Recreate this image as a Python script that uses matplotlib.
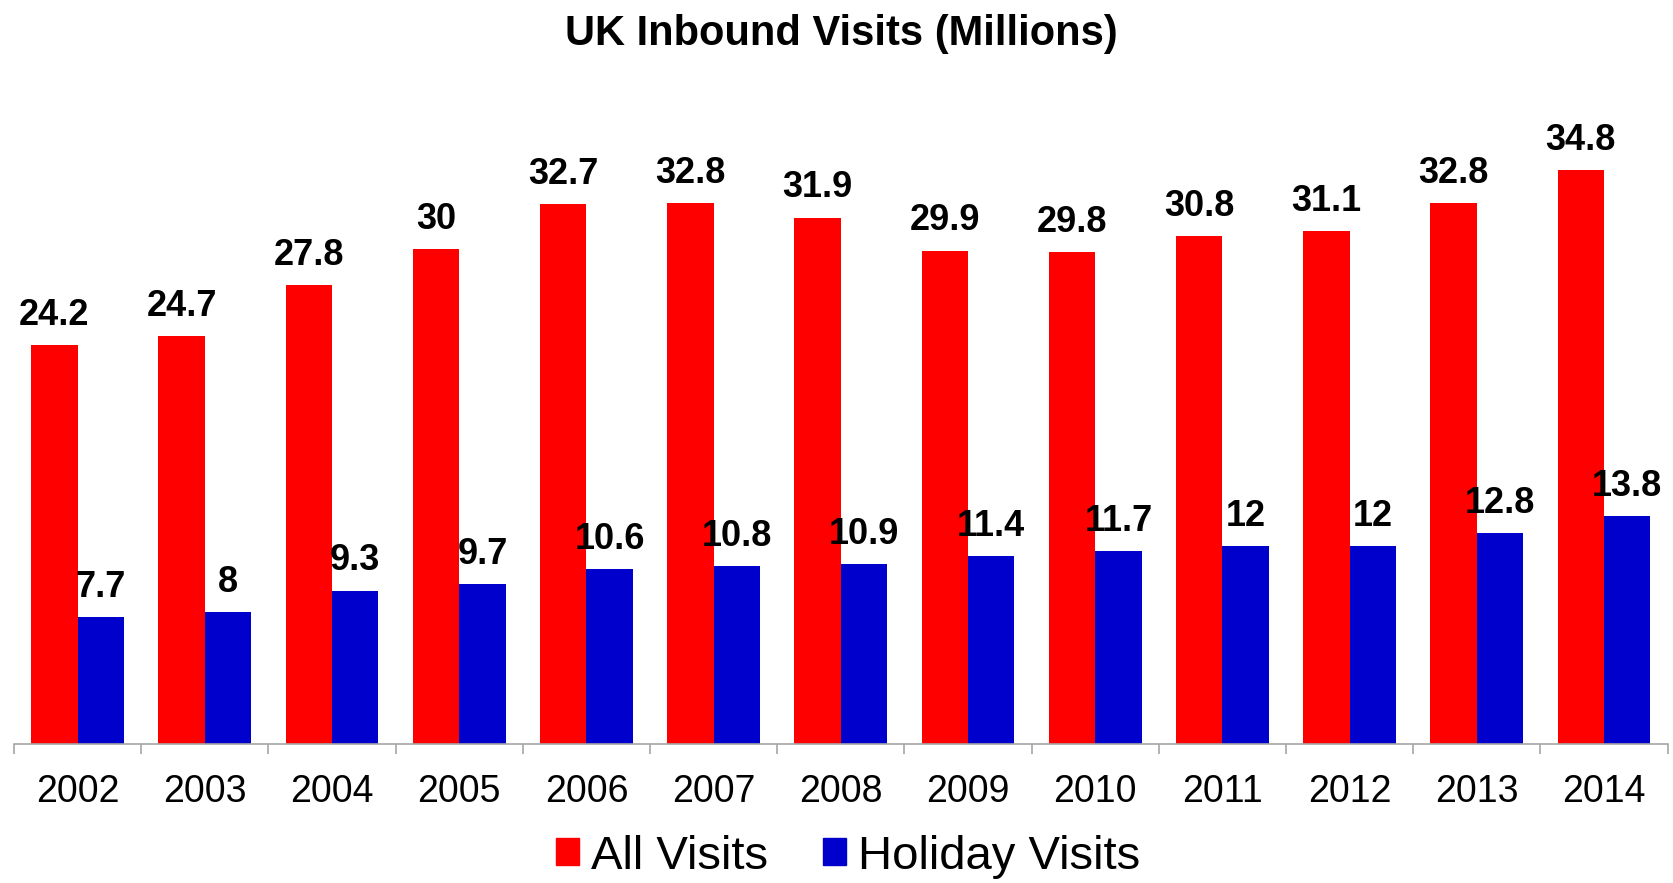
import numpy as np
import matplotlib.pyplot as plt
from matplotlib.patches import Patch

plt.rcParams['font.family'] = ['Liberation Sans', 'DejaVu Sans']

# DATA
years = ['2002', '2003', '2004', '2005', '2006', '2007', '2008',
         '2009', '2010', '2011', '2012', '2013', '2014']
all_visits = [24.2, 24.7, 27.8, 30, 32.7, 32.8, 31.9, 29.9, 29.8, 30.8, 31.1, 32.8, 34.8]
holiday_visits = [7.7, 8, 9.3, 9.7, 10.6, 10.8, 10.9, 11.4, 11.7, 12, 12, 12.8, 13.8]

RED = '#ff0000'
BLUE = '#0000cc'
GREY = '#a6a6a6'

fig = plt.figure(figsize=(16.73, 8.83), dpi=100)
ax = fig.add_axes([0.0084, 0.1574, 0.9884, 0.7475])

x = np.arange(len(years))
w = 0.365
red_bars = ax.bar(x - w/2, all_visits, w, color=RED, linewidth=0)
blue_bars = ax.bar(x + w/2, holiday_visits, w, color=BLUE, linewidth=0)

# value labels above each bar
for bars, vals in [(red_bars, all_visits), (blue_bars, holiday_visits)]:
    for b, v in zip(bars, vals):
        ax.annotate('{:g}'.format(v), (b.get_x() + b.get_width()/2, v),
                    xytext=(0, 14.5), textcoords='offset points',
                    ha='center', va='baseline', fontsize=26, fontweight='bold')

ax.set_xlim(-0.5, len(years) - 0.5)
ax.set_ylim(0, 40)

for side in ['left', 'right', 'top']:
    ax.spines[side].set_visible(False)
ax.spines['bottom'].set_color(GREY)
ax.spines['bottom'].set_linewidth(1.2)

ax.set_yticks([])
ax.set_xticks(x)
ax.set_xticklabels(years, fontsize=27)
ax.tick_params(axis='x', which='major', length=0, pad=21.5)
ax.set_xticks(np.arange(len(years) + 1) - 0.5, minor=True)
ax.tick_params(axis='x', which='minor', length=7.5, width=1.2, color=GREY, direction='out')

fig.text(0.503, 0.961, 'UK Inbound Visits (Millions)', ha='center', va='center',
         fontsize=30, fontweight='bold')

handles = [Patch(color=RED, label='All Visits'), Patch(color=BLUE, label='Holiday Visits')]
fig.legend(handles=handles, loc='center', bbox_to_anchor=(0.507, 0.030), ncol=2,
           frameon=False, fontsize=34, handlelength=0.49, handleheight=0.49,
           handletextpad=0.25, columnspacing=1.17, borderpad=0)

fig.savefig('out.png', dpi=100)
